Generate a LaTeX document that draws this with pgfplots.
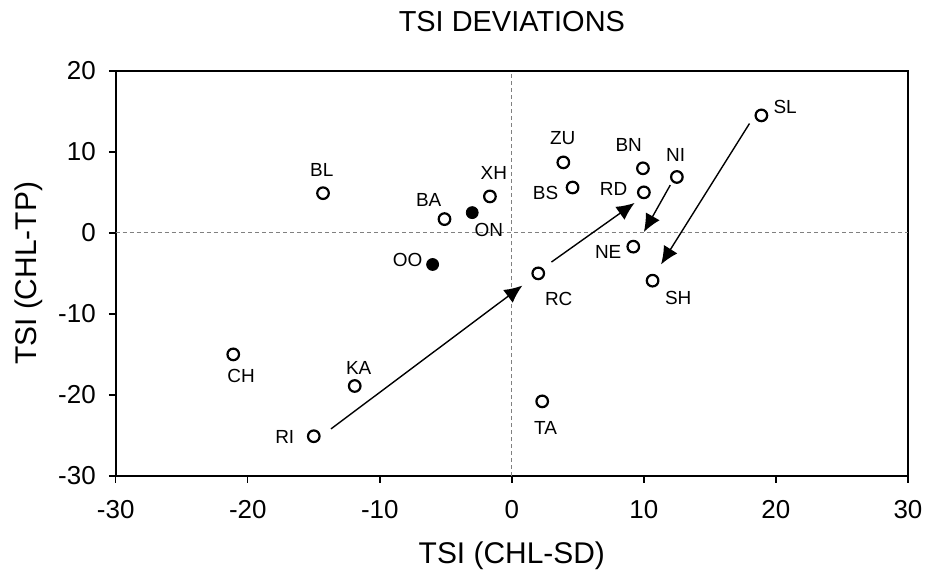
\documentclass[border=0pt]{standalone}
\usepackage{fontspec}
\setmainfont{Liberation Sans}
\usepackage{pgfplots}
\pgfplotsset{compat=1.18}
\usetikzlibrary{arrows.meta}
\begin{document}
\begin{tikzpicture}
\begin{axis}[
  scale only axis, width=397pt, height=203pt,
  xmin=-30, xmax=30, ymin=-30, ymax=20,
  xtick={-30,-20,...,30}, ytick={-30,-20,...,20},
  tick align=outside, tick pos=left,
  major tick length=3.5pt,
  axis line style={line width=1.1pt},
  tick style={line width=0.7pt, black},
  /pgf/number format/assume math mode=true,
  ticklabel style={font=\fontsize{13}{15}\selectfont},
  xticklabel style={yshift=-5pt},
  yticklabel style={xshift=-3pt},
  title={TSI DEVIATIONS},
  title style={font=\fontsize{14.5}{16}\selectfont, yshift=10pt},
  xlabel={TSI (CHL-SD)}, ylabel={TSI (CHL-TP)},
  label style={font=\fontsize{15}{17}\selectfont},
  xlabel style={yshift=-5pt},
  ylabel style={yshift=1pt},
  clip=false,
]
\draw[gray, dashed, dash pattern=on 2pt off 1.5pt, line width=0.6pt] (axis cs:0,-30) -- (axis cs:0,20);
\draw[gray, dashed, dash pattern=on 2pt off 1.5pt, line width=0.6pt] (axis cs:-30,0) -- (axis cs:30,0);
% arrows
\draw[line width=0.7pt, -{Latex[length=9pt,width=8pt]}] (axis cs:-13.7,-24.2) -- (axis cs:0.8,-6.5);
\draw[line width=0.7pt, -{Latex[length=9pt,width=8pt]}] (axis cs:3.0,-3.6) -- (axis cs:9.3,3.7);
\draw[line width=0.7pt, -{Latex[length=9pt,width=8pt]}] (axis cs:18.0,13.5) -- (axis cs:11.3,-3.9);
\draw[line width=0.7pt, -{Latex[length=9pt,width=8pt]}] (axis cs:12.0,5.9) -- (axis cs:10.0,0.1);
% open points
\addplot[only marks, mark=o, mark size=2.9pt, mark options={line width=1.1pt}]
  table {
x y
18.9 14.5
12.5 6.9
9.93 7.97
10.0 5.0
9.2 -1.7
10.66 -5.9
3.9 8.7
4.6 5.6
2.0 -5.0
-14.3 4.9
-1.66 4.5
-5.1 1.7
-21.1 -15.0
-11.9 -18.9
-15.0 -25.1
2.3 -20.8
};
% filled points
\addplot[only marks, mark=*, mark size=3pt, fill=black]
  table {
x y
-3.0 2.5
-6.0 -3.9
};
\begin{scope}[font=\fontsize{9.5}{11}\selectfont]
\node at (axis cs:20.7,15.5) {SL};
\node at (axis cs:12.4,9.6) {NI};
\node at (axis cs:8.85,10.8) {BN};
\node at (axis cs:7.7,5.4) {RD};
\node at (axis cs:7.3,-2.3) {NE};
\node at (axis cs:12.6,-8.0) {SH};
\node at (axis cs:3.85,11.7) {ZU};
\node at (axis cs:2.55,4.9) {BS};
\node at (axis cs:3.55,-8.1) {RC};
\node at (axis cs:-14.4,7.8) {BL};
\node at (axis cs:-1.36,7.35) {XH};
\node at (axis cs:-6.3,4.0) {BA};
\node at (axis cs:-1.74,0.3) {ON};
\node at (axis cs:-7.9,-3.4) {OO};
\node at (axis cs:-20.5,-17.7) {CH};
\node at (axis cs:-11.6,-16.7) {KA};
\node at (axis cs:-17.2,-25.2) {RI};
\node at (axis cs:2.55,-24.1) {TA};
\end{scope}
\coordinate (LL) at (rel axis cs:0,0);
\coordinate (UR) at (rel axis cs:1,1);
\end{axis}
\path ([xshift=-58pt,yshift=-46.5pt]LL) rectangle ([xshift=9.5pt,yshift=35.5pt]UR);
\end{tikzpicture}
\end{document}
